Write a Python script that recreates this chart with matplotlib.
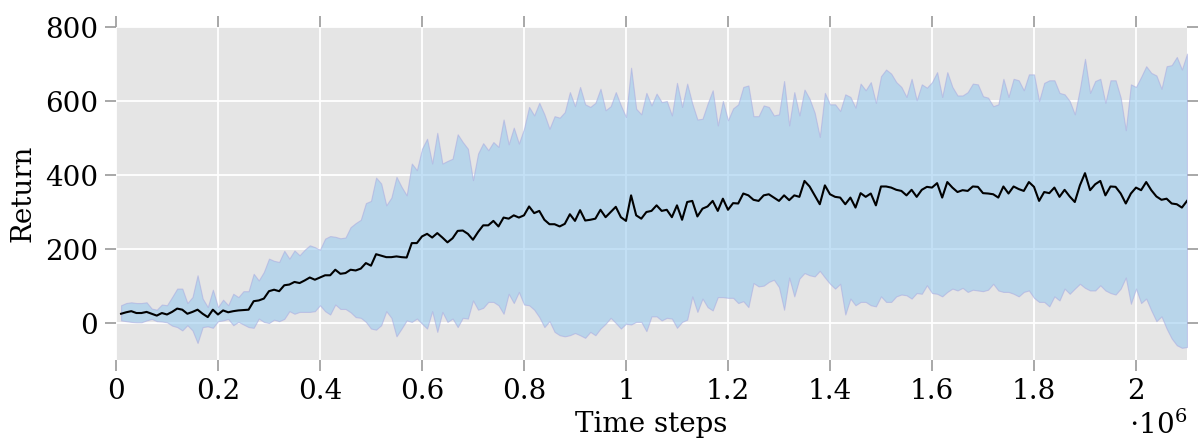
import numpy as np
import matplotlib.pyplot as plt
from matplotlib.ticker import FuncFormatter, MultipleLocator

# time steps: one evaluation every 10k steps
steps = np.arange(1, 211) * 10000

mean_return = [
    25, 29, 32, 27, 27, 30, 25, 20, 27, 23, 30, 39, 36, 25, 30, 36, 25, 16, 36, 23,
    34, 29, 32, 34, 35, 36, 59, 61, 66, 86,
    90, 86, 102, 104, 111, 108, 115, 123, 117, 123, 129, 129, 144, 133, 135, 144, 142, 147, 162, 155,
    186, 182, 178, 178, 180, 178, 177, 216, 216, 234,
    241, 231, 243, 231, 218, 229, 249, 250, 241, 225, 246, 264, 264, 276, 261, 285, 282, 291, 285, 291,
    315, 297, 303, 279, 267, 267, 261, 268, 294, 276,
    305, 277, 279, 282, 306, 286, 300, 314, 286, 276, 345, 291, 282, 300, 303, 318, 303, 306, 286, 318,
    279, 327, 330, 288, 309, 315, 330, 303, 336, 306,
    324, 323, 350, 345, 333, 330, 345, 348, 339, 330, 345, 332, 345, 341, 384, 369, 345, 321, 372, 348,
    341, 339, 321, 339, 312, 351, 341, 350, 318, 369,
    369, 366, 360, 357, 345, 360, 341, 360, 368, 366, 378, 339, 381, 366, 354, 359, 357, 369, 368, 351,
    350, 348, 339, 369, 350, 369, 362, 357, 381, 368,
    330, 354, 351, 366, 341, 360, 342, 327, 372, 405, 359, 375, 384, 345, 369, 368, 350, 323, 350, 366,
    359, 381, 359, 342, 333, 336, 323, 321, 312, 330,
]

upper_return = [
    48, 54, 56, 54, 54, 56, 39, 36, 50, 48, 70, 93, 93, 54, 70, 129, 66, 43, 90, 43,
    63, 48, 79, 70, 86, 86, 133, 115, 138, 174,
    168, 165, 195, 174, 196, 183, 198, 210, 205, 198, 228, 235, 233, 229, 231, 259, 270, 279, 324, 330,
    393, 377, 318, 339, 395, 368, 345, 431, 413, 471,
    498, 431, 514, 431, 438, 444, 510, 489, 471, 386, 458, 486, 467, 489, 476, 550, 483, 528, 485, 525,
    584, 561, 595, 564, 525, 559, 555, 570, 624, 586,
    638, 591, 584, 595, 633, 575, 586, 624, 588, 557, 690, 579, 564, 622, 588, 620, 597, 600, 561, 649,
    584, 647, 593, 550, 552, 593, 629, 534, 600, 548,
    580, 591, 638, 642, 559, 559, 588, 584, 561, 564, 654, 534, 624, 561, 631, 606, 568, 503, 622, 591,
    591, 573, 618, 611, 582, 647, 629, 651, 595, 667,
    685, 674, 651, 638, 611, 660, 602, 645, 636, 651, 678, 611, 678, 638, 615, 615, 624, 647, 645, 613,
    609, 586, 591, 660, 611, 660, 656, 629, 672, 672,
    600, 649, 656, 656, 622, 618, 600, 564, 633, 714, 622, 654, 660, 595, 656, 656, 609, 521, 645, 638,
    665, 694, 676, 669, 633, 694, 697, 719, 685, 728,
]

lower_return = [
    7, 5, 3, 2, 2, 7, 11, 5, 4, 2, -7, -11, -20, -6, -20, -54, -11, -9, -13, 5,
    7, 11, -6, 3, -4, -11, -13, 12, 3, 0,
    9, 5, 11, 32, 25, 30, 30, 30, 32, 48, 32, 23, 50, 38, 38, 29, 16, 14, 3, -15,
    -18, -6, 32, 14, -36, -15, 7, 3, 12, -2,
    -15, 32, -24, 30, 3, 12, -11, 14, 12, 61, 36, 41, 57, 57, 48, 25, 79, 54, 84, 50,
    48, 36, 16, -11, 5, -24, -33, -36, -33, -27,
    -33, -40, -24, -33, -15, -2, 14, 0, -15, -2, -4, 3, 3, -22, 18, 18, 7, 14, 12, -13,
    3, 9, 72, 30, 66, 43, 34, 70, 70, 68,
    68, 54, 59, 43, 108, 99, 101, 111, 117, 97, 36, 123, 72, 120, 135, 129, 126, 141, 123, 106,
    93, 106, 23, 66, 48, 57, 57, 48, 45, 72,
    57, 57, 72, 77, 75, 66, 81, 79, 102, 81, 79, 72, 84, 93, 88, 95, 84, 90, 88, 86,
    90, 106, 88, 84, 84, 79, 72, 84, 88, 68,
    57, 57, 45, 72, 61, 93, 79, 93, 106, 95, 88, 88, 102, 88, 81, 77, 93, 123, 52, 93,
    54, 66, 34, 5, 18, -15, -42, -60, -67, -65,
]

plt.rcParams["font.family"] = ["DejaVu Serif"]
plt.rcParams["mathtext.fontset"] = "dejavuserif"

fig = plt.figure(figsize=(12.03, 4.40), dpi=100)
ax = fig.add_axes([0.0964, 0.1818, 0.8903, 0.7568])

ax.set_facecolor("#e5e5e5")
ax.set_axisbelow(True)
ax.grid(color="white", linewidth=1.3)

ax.fill_between(steps, lower_return, upper_return,
                facecolor="#93c8ef", alpha=0.55,
                edgecolor="#a9a9e0", linewidth=0.8)
ax.plot(steps, mean_return, color="black", linewidth=1.5)

ax.set_xlim(0, 2.1e6)
ax.set_ylim(-100, 800)
ax.xaxis.set_major_locator(MultipleLocator(0.2e6))
ax.yaxis.set_major_locator(MultipleLocator(200))
ax.xaxis.set_major_formatter(FuncFormatter(lambda v, pos: "%g" % round(v / 1e6, 1)))

for side in ["top", "bottom", "left", "right"]:
    ax.spines[side].set_visible(False)

ax.tick_params(direction="out", length=8, width=1.2, color="#9a9a9a",
               top=True, right=True, labelsize=20, pad=5)

ax.set_xlabel("Time steps", fontsize=20, labelpad=4)
ax.set_ylabel("Return", fontsize=20, labelpad=6)
ax.text(1.0, -0.195, r"$\cdot 10^{6}$", transform=ax.transAxes,
        ha="right", va="center", fontsize=20)

fig.savefig("out.png", dpi=100)
